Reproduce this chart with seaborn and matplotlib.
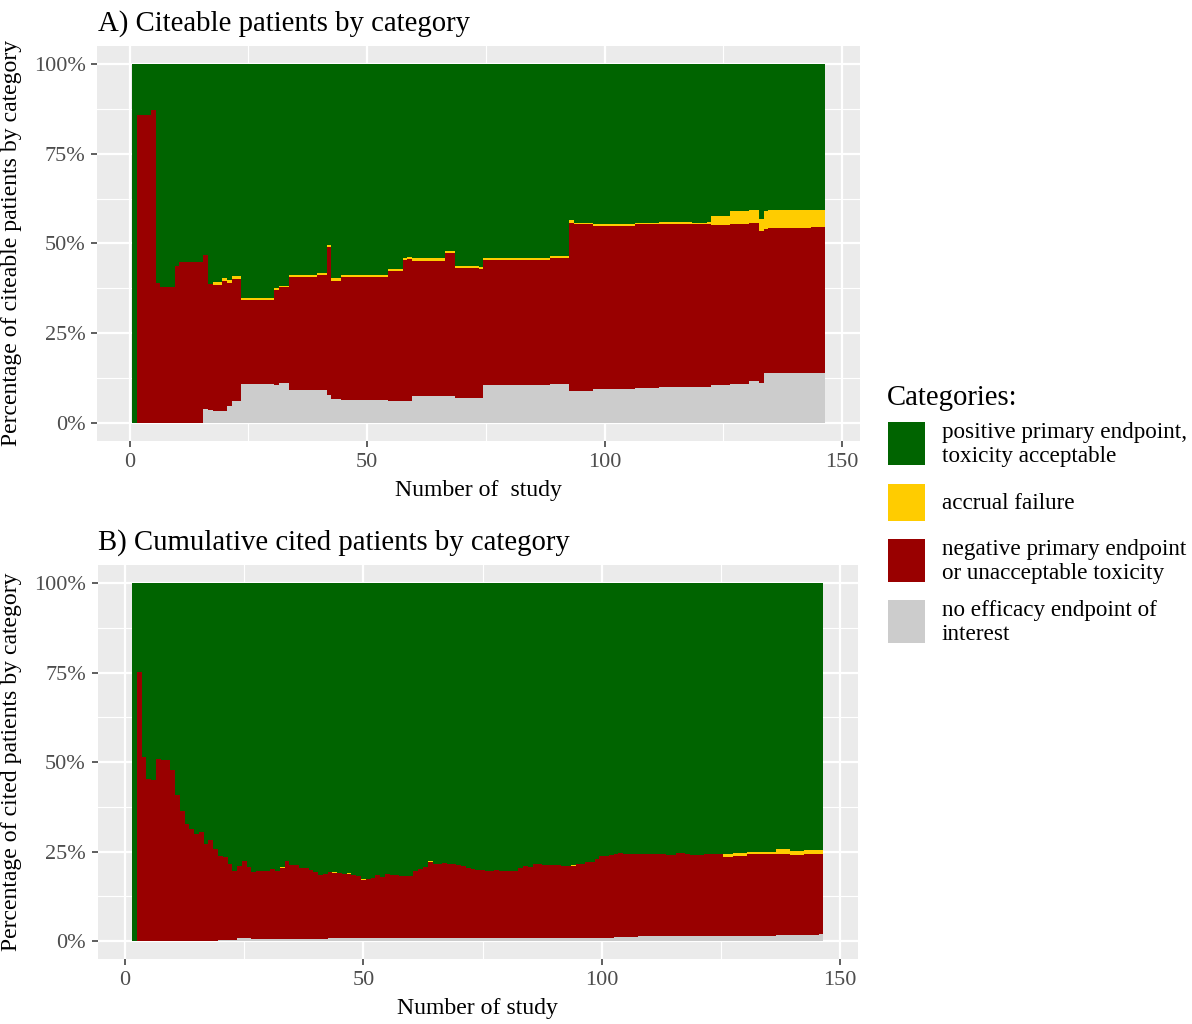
import numpy as np
import pandas as pd
import matplotlib
matplotlib.use("Agg")
import matplotlib.pyplot as plt
import seaborn as sns
from matplotlib.patches import Rectangle
from matplotlib.ticker import PercentFormatter, MultipleLocator

# categories, top of stack first
categories = ["positive primary endpoint,\ntoxicity acceptable",
              "accrual failure",
              "negative primary endpoint\nor unacceptable toxicity",
              "no efficacy endpoint of\ninterest"]
colors = ["#006400", "#FFCC00", "#990000", "#CCCCCC"]
palette = dict(zip(categories, colors))

# ---- panel A: citeable patients, studies 1..146 (runs of (value %, number of studies))
studies_a = list(range(1, 147))
noeff_a_runs = [(0, 15), (3.9, 1), (3.4, 1), (3.3, 3), (4.6, 1), (6.0, 2), (10.9, 7), (10.5, 1),
                (11.2, 2), (9.0, 8), (7.8, 1), (6.5, 2), (6.3, 10), (6.0, 5), (7.5, 9), (6.9, 6),
                (10.5, 14), (10.7, 4), (8.7, 5), (9.4, 9), (9.7, 5), (10.0, 11), (10.4, 4),
                (10.7, 4), (11.6, 2), (11.2, 1), (13.8, 13)]
# upper edge of the red band (negative + no efficacy)
neg_top_a_runs = [(0, 1), (85.8, 3), (87.1, 1), (39.0, 1), (37.9, 3), (43.8, 1), (44.8, 5), (46.8, 1),
                  (38.7, 1), (38.5, 2), (39.4, 1), (39.0, 1), (40.0, 2), (34.2, 7), (37.1, 1),
                  (37.8, 2), (40.7, 6), (41.2, 2), (49.0, 1), (39.5, 2), (40.7, 10), (42.3, 3),
                  (45.3, 1), (45.7, 1), (45.1, 7), (47.3, 2), (43.1, 5), (42.9, 1), (45.3, 14),
                  (46.0, 4), (55.8, 1), (55.3, 4), (54.9, 9), (55.3, 5), (55.5, 7), (55.3, 3),
                  (55.4, 1), (55.0, 4), (55.3, 4), (55.7, 2), (53.5, 1), (54.1, 1), (54.4, 9),
                  (54.5, 3)]
acc_a_runs = [(0, 17), (0.8, 6), (0.5, 8), (0.3, 2), (0.5, 6), (0.4, 2), (0.5, 1), (0.8, 2),
              (0.6, 14), (0.5, 1), (0.7, 9), (0.6, 5), (0.5, 1), (0.6, 19), (0.4, 4), (0.5, 21),
              (0.4, 3), (0.5, 1), (2.6, 4), (3.7, 6), (3.4, 1), (5.0, 1), (4.8, 9), (4.9, 3)]

# ---- panel B: cumulative cited patients, studies 2..146
studies_b = list(range(2, 147))
noeff_b_runs = [(0, 16), (0.1, 2), (0.4, 4), (0.9, 3), (0.7, 9), (0.6, 7), (0.9, 60), (1.0, 5),
                (1.4, 29), (1.8, 9), (2.1, 1)]
neg_top_b = [0,
             75.3, 51.3, 45.2, 44.9, 51.0, 50.7, 50.7, 47.8,
             40.7, 36.3, 32.6, 31.2, 30.0, 30.4, 27.1, 28.1, 25.8, 23.9,
             23.4, 21.6, 19.7, 20.9, 22.4, 20.7, 19.4, 19.5, 19.5, 19.6,
             20.1, 19.7, 20.4, 22.4, 21.2, 21.2, 20.5, 20.3, 19.9, 19.3,
             18.5, 18.8, 19.4, 19.1, 18.9, 18.8, 18.8, 18.5, 18.1, 17.1,
             17.2, 17.5, 18.4, 18.0, 18.8, 18.5, 18.5, 18.3, 18.3, 18.2,
             19.6, 20.0, 20.8, 22.0, 21.6, 21.6, 21.8, 21.5, 21.5, 21.2,
             21.0, 20.5, 20.0, 19.9, 19.8, 19.6, 19.6, 19.8, 19.5, 19.5,
             19.7, 19.7, 20.3, 21.0, 20.7, 21.5, 21.5, 21.2, 21.2, 21.2,
             21.2, 21.1, 21.0, 21.0, 21.5, 21.5, 22.0, 22.0, 22.8, 23.9,
             23.9, 24.0, 24.3, 24.6, 24.3, 24.3, 24.3, 24.3, 24.3, 24.3,
             24.3, 24.3, 24.3, 24.1, 24.1, 24.5, 24.5, 24.3, 24.0, 24.0,
             24.0, 24.3, 24.3, 24.3, 24.3, 23.6, 23.6, 23.9, 23.9, 23.9,
             24.2, 24.2, 24.2, 24.2, 24.2, 24.2, 24.4, 24.4, 24.4, 24.0,
             24.0, 24.0, 24.2, 24.2, 24.2, 24.2]
acc_b_runs = [(0, 31), (0.3, 1), (0, 4), (0.2, 1), (0, 5), (0.2, 1), (0, 2), (0.2, 1), (0, 2),
              (0.2, 1), (0, 13), (0.3, 1), (0, 18), (0.2, 1), (0, 10), (0.2, 1), (0, 21), (0.2, 2),
              (0, 4), (0.1, 4), (0.6, 5), (0.7, 6), (1.2, 3), (1.3, 3), (1.2, 4)]


def expand(runs):
    vals, counts = zip(*runs)
    return np.repeat(np.array(vals, dtype=float), counts)


def long_table(study, noeff, neg_top, acc):
    noeff = np.asarray(noeff, dtype=float)
    neg_top = np.asarray(neg_top, dtype=float)
    neg = neg_top - noeff
    pos = 100 - neg_top - acc
    return pd.DataFrame({
        "study": np.tile(study, 4),
        "category": np.repeat(categories, len(study)),
        "pct": np.concatenate([pos, acc, neg, noeff]),
    })


df_a = long_table(studies_a, expand(noeff_a_runs), expand(neg_top_a_runs), expand(acc_a_runs))
df_b = long_table(studies_b, expand(noeff_b_runs), neg_top_b, expand(acc_b_runs))

plt.rcParams["font.family"] = ["Liberation Serif", "DejaVu Serif"]

W, H = 1192, 1024
fig = plt.figure(figsize=(W / 100, H / 100), dpi=100)


def px_axes(left, right, top, bottom):
    return fig.add_axes([left / W, 1 - bottom / H, (right - left) / W, (bottom - top) / H])


def draw_panel(ax, df, xlim):
    sns.histplot(data=df, x="study", hue="category", weights="pct", hue_order=categories,
                 palette=palette, multiple="fill", discrete=True, element="step",
                 alpha=1, linewidth=0, legend=False, ax=ax)
    ax.set_facecolor("#EBEBEB")
    ax.set_xlim(*xlim)
    ax.set_ylim(-0.05, 1.05)
    ax.xaxis.set_major_locator(MultipleLocator(50))
    ax.xaxis.set_minor_locator(MultipleLocator(25))
    ax.yaxis.set_major_locator(MultipleLocator(0.25))
    ax.yaxis.set_minor_locator(MultipleLocator(0.125))
    ax.yaxis.set_major_formatter(PercentFormatter(1.0, decimals=0))
    ax.grid(which="major", color="white", linewidth=1.6)
    ax.grid(which="minor", color="white", linewidth=0.8)
    ax.set_axisbelow(True)
    for s in ax.spines.values():
        s.set_visible(False)
    ax.tick_params(which="major", length=4.4, width=1.1, color="#333333",
                   labelcolor="#4D4D4D", labelsize=16)
    ax.tick_params(axis="x", which="major", pad=4.6)
    ax.tick_params(axis="y", which="major", pad=4.0)
    ax.tick_params(which="minor", length=0)
    ax.set_xlabel("")
    ax.set_ylabel("")


ax_a = px_axes(97.3, 860, 46.1, 440.6)
draw_panel(ax_a, df_a, (-6.8, 153.8))
ax_b = px_axes(97.6, 858, 565.4, 958.9)
draw_panel(ax_b, df_b, (-5.75, 153.75))

# titles and axis labels
fig.text(97.5 / W, 1 - 30.5 / H, "A) Citeable patients by category", fontsize=20.7, va="baseline")
fig.text(97.5 / W, 1 - 549.8 / H, "B) Cumulative cited patients by category", fontsize=20.7,
         va="baseline")
fig.text(478.7 / W, 1 - 496 / H, "Number of  study", fontsize=17.1, ha="center", va="baseline")
fig.text(477.8 / W, 1 - 1014.3 / H, "Number of study", fontsize=17.1, ha="center", va="baseline")
fig.text(11.5 / W, 1 - 243.4 / H, "Percentage of citeable patients by category", fontsize=17.1,
         rotation=90, ha="center", va="center")
fig.text(11.5 / W, 1 - 762.2 / H, "Percentage of cited patients by category", fontsize=17.1,
         rotation=90, ha="center", va="center")

# legend
fig.text(886.7 / W, 1 - 405 / H, "Categories:", fontsize=20.7, va="baseline")
key_rows = [(422.3, 465), (484, 521), (539.3, 582), (600, 643.3)]
for cat, col, (top, bot) in zip(categories, colors, key_rows):
    fig.add_artist(Rectangle((888.3 / W, 1 - bot / H), (925 - 888.3) / W, (bot - top) / H,
                             transform=fig.transFigure, facecolor=col, edgecolor="none"))
    fig.text(941.7 / W, 1 - ((top + bot) / 2 + 1) / H, cat, fontsize=16.7, va="center",
             linespacing=1.2)

fig.savefig("out.png", dpi=100)
